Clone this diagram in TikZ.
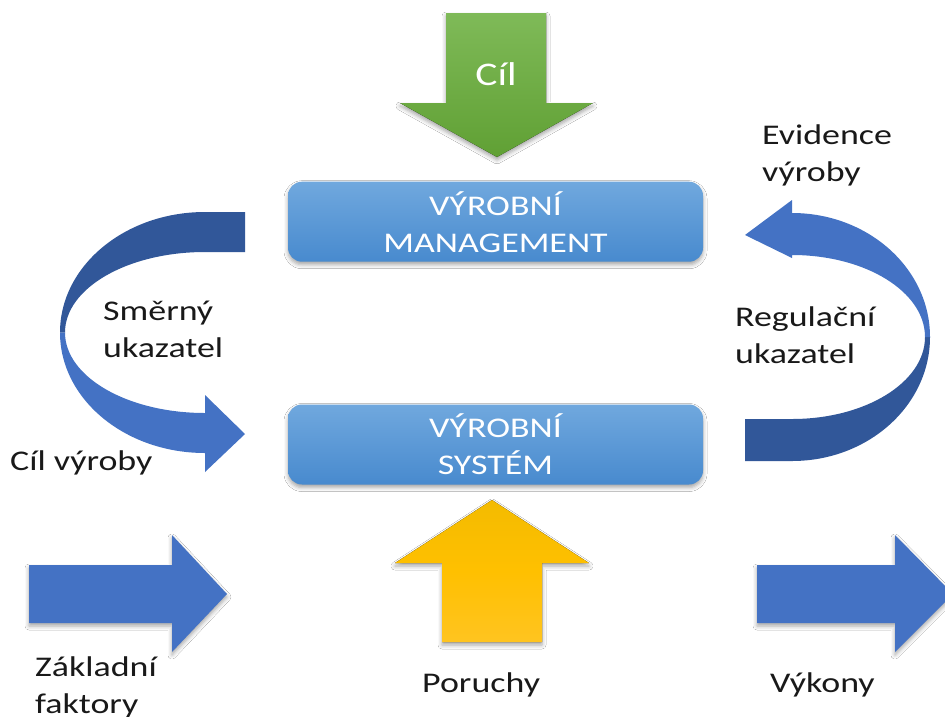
\documentclass[tikz,border=0pt]{standalone}
\usepackage{fontspec}
\setmainfont{Carlito}[FakeStretch=1.26]
\usetikzlibrary{shadows.blur}

\definecolor{boxtop}{RGB}{112,168,222}
\definecolor{boxbot}{RGB}{72,138,206}
\definecolor{arrowblue}{RGB}{68,114,196}
\definecolor{arrowdark}{RGB}{49,87,153}
\definecolor{greentop}{RGB}{127,186,88}
\definecolor{greenbot}{RGB}{96,160,52}
\definecolor{goldtop}{RGB}{232,182,0}
\definecolor{goldmid}{RGB}{255,192,0}
\definecolor{goldbot}{RGB}{255,200,64}
\definecolor{labelink}{RGB}{25,25,25}

\pgfdeclareverticalshading{goldshade}{100bp}{color(0bp)=(goldbot); color(50bp)=(goldmid); color(100bp)=(goldtop)}

\begin{document}
\begin{tikzpicture}[x=1pt,y=-1pt,
  softshadow/.style={blur shadow={shadow xshift=0pt,shadow yshift=-3pt,shadow blur radius=4pt,shadow opacity=35}},
  stage/.style={rounded corners=14pt, top color=boxtop, bottom color=boxbot,
    minimum width=415pt, minimum height=80pt, inner sep=0pt,
    text=white, align=center, font=\fontsize{28.5}{37}\selectfont, softshadow},
  lbl/.style={inner sep=0pt, text=labelink, align=left, font=\fontsize{28.5}{37}\selectfont},
  blockblue/.style={fill=arrowblue, softshadow}
]
\useasboundingbox (0,0) rectangle (945,716);
\fill[white] (0,0) rectangle (945,716);
\clip (0,0) rectangle (945,716);

% goal arrow (green, pointing down)
\fill[top color=greentop, bottom color=greenbot, softshadow]
  (446,13) -- (546,13) -- (546,103) -- (593,103) -- (497,157) -- (400,103) -- (446,103) -- cycle;
\node[inner sep=0pt, text=white, font=\fontsize{33}{40}\selectfont, anchor=base] (cil) at (496,85) {Cíl};

% the two stages
\node[stage] (mgmt) at (495.5,221.7) {VÝROBNÍ\\MANAGEMENT};
\node[stage] (sys) at (495.5,444.5) {VÝROBNÍ\\SYSTÉM};

% left curved arrow: management -> system
\fill[arrowdark]
  (245,212) -- (205,212) arc[start angle=90, end angle=180, x radius=145pt, y radius=120.5pt]
  -- (65,332.5) arc[start angle=180, end angle=90, x radius=140pt, y radius=80.5pt]
  -- (245,252) -- cycle;
\fill[arrowblue]
  (60,332.5) arc[start angle=180, end angle=270, x radius=145pt, y radius=120.5pt]
  -- (205,472) -- (245,434) -- (205,395) -- (205,413)
  arc[start angle=270, end angle=180, x radius=140pt, y radius=80.5pt] -- cycle;

% right curved arrow: system -> management
\fill[arrowdark]
  (745,461) -- (792,461) arc[start angle=270, end angle=360, x radius=138pt, y radius=124pt]
  -- (925,337) arc[start angle=0, end angle=-90, x radius=133pt, y radius=82pt]
  -- (745,419) -- cycle;
\fill[arrowblue]
  (930,337) arc[start angle=0, end angle=90, x radius=138pt, y radius=124pt]
  -- (792,200) -- (745,235) -- (792,258) -- (792,255)
  arc[start angle=90, end angle=0, x radius=133pt, y radius=82pt] -- cycle;

% disturbances arrow (gold, pointing up)
\fill[shading=goldshade, softshadow]
  (442,642) -- (542,642) -- (542,563) -- (589,563) -- (492,500) -- (395,563) -- (442,563) -- cycle;

% inputs and outputs
\fill[blockblue]
  (29,565) -- (172,565) -- (172,535) -- (227,594) -- (172,652) -- (172,623) -- (29,623) -- cycle;
\fill[blockblue]
  (757,565) -- (895,565) -- (895,535) -- (953,594) -- (895,652) -- (895,623) -- (757,623) -- cycle;

% labels (base anchor sits on the last line)
\node[lbl, anchor=base west] (evid) at (762,181) {Evidence\\výroby};
\node[lbl, anchor=base west] (smer) at (103,357) {Směrný\\ukazatel};
\node[lbl, anchor=base west] (regul) at (735,363) {Regulační\\ukazatel};
\node[lbl, anchor=base west] (cilv) at (10,470) {Cíl výroby};
\node[lbl, anchor=base west] (zakl) at (35,713) {Základní\\faktory};
\node[lbl, anchor=base west] (poru) at (422,692) {Poruchy};
\node[lbl, anchor=base west] (vyk) at (770,692) {Výkony};
\end{tikzpicture}
\end{document}
